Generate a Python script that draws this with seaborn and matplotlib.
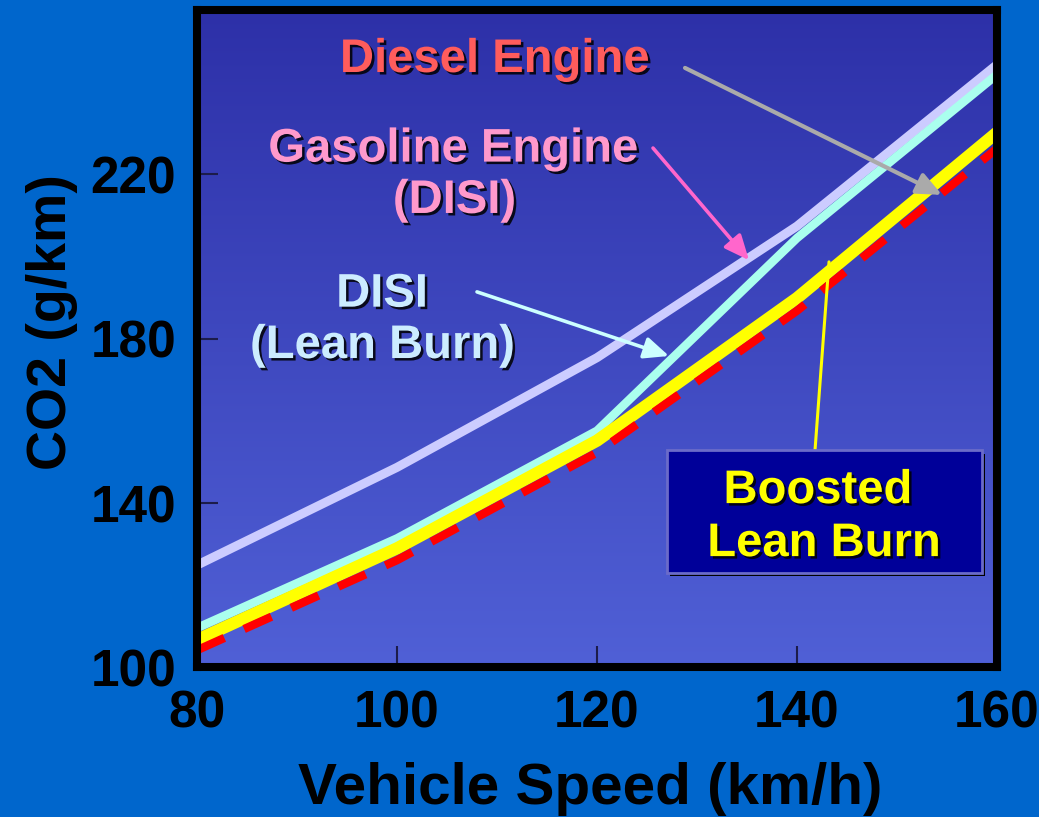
import numpy as np
import matplotlib
matplotlib.use("Agg")
import matplotlib.pyplot as plt
import matplotlib.patheffects as pe
from matplotlib.colors import LinearSegmentedColormap
from matplotlib.patches import Rectangle
import seaborn as sns

# CO2 emissions (g/km) against vehicle speed (km/h)
speed_kmh = [80, 100, 120, 140, 160]
co2_gasoline_disi = [124.9, 148.7, 175.4, 207.4, 246.7]
co2_disi_lean = [109.6, 131.4, 157.6, 204.5, 244.3]
co2_boosted_lean = [106.7, 129.0, 155.2, 189.9, 230.2]
co2_diesel = [104.2, 126.1, 152.3, 186.8, 226.3]

x_ticks = [80, 100, 120, 140, 160]
y_ticks = [100, 140, 180, 220]
x_limits = (80, 160)
y_limits = (100, 260)

sns.set_theme(style="white")
plt.rcParams["font.family"] = ["Liberation Sans", "DejaVu Sans"]
plt.rcParams["font.weight"] = "bold"

fig = plt.figure(figsize=(10.39, 8.17), dpi=100, facecolor="#0066CC")
ax = fig.add_axes([0.1896, 0.1830, 0.7700, 0.8048])
ax.set_facecolor("#3A45BE")

# vertical blue gradient behind the curves
grad = np.linspace(0, 1, 256).reshape(-1, 1)
bg_cmap = LinearSegmentedColormap.from_list("bg", ["#5060D6", "#2D30A8"])
ax.imshow(grad, extent=(*x_limits, *y_limits), origin="lower",
          aspect="auto", cmap=bg_cmap, zorder=0, interpolation="bicubic")

sns.lineplot(x=speed_kmh, y=co2_gasoline_disi, ax=ax, color="#CCCCFF",
             lw=6.5, zorder=3)
sns.lineplot(x=speed_kmh, y=co2_disi_lean, ax=ax, color="#AAFFEE",
             lw=6.2, zorder=4)
sns.lineplot(x=speed_kmh, y=co2_boosted_lean, ax=ax, color="#FFFF00",
             lw=8.8, zorder=4.5)
sns.lineplot(x=speed_kmh, y=co2_diesel, ax=ax, color="#FF0000",
             lw=6.0, zorder=4.6, linestyle=(0, (3.6, 2.6)))

ax.set_xlim(*x_limits)
ax.set_ylim(*y_limits)
ax.set_xticks(x_ticks)
ax.set_yticks(y_ticks)
ax.grid(False)

for spine in ax.spines.values():
    spine.set_visible(True)
    spine.set_color("black")
    spine.set_linewidth(5.8)
    spine.set_zorder(10)

ax.tick_params(axis="both", which="major", direction="in", bottom=True,
               left=True, length=15, width=1.5, color="#1C1C4A",
               labelsize=37, labelcolor="black", pad=15)
ax.tick_params(axis="x", pad=16)

ax.set_xlabel("Vehicle Speed (km/h)", fontsize=42, fontweight="bold",
              color="black")
ax.xaxis.set_label_coords(0.491, -0.1437)
ax.set_ylabel("CO2 (g/km)", fontsize=40, fontweight="bold", color="black",
              va="baseline")
ax.yaxis.set_label_coords(-0.1635, 0.526)

shadow = [pe.withSimplePatchShadow(offset=(1.8, -1.8),
                                   shadow_rgbFace="black", alpha=0.85)]


def label(x, y, text, color):
    ax.text(x, y, text, color=color, fontsize=34, fontweight="bold",
            ha="center", va="baseline", zorder=9, path_effects=shadow)


def pointer(tail, head, color, lw, style="-|>,head_length=0.75,head_width=0.33"):
    ax.annotate("", xy=head, xytext=tail, zorder=8,
                arrowprops=dict(arrowstyle=style, color=color, lw=lw,
                                shrinkA=0, shrinkB=0, mutation_scale=20))


label(109.8, 244.9, "Diesel Engine", "#FF5C5C")
label(105.65, 223.1, "Gasoline Engine", "#FF99CC")
label(105.75, 210.6, "(DISI)", "#FF99CC")
label(98.5, 187.8, "DISI", "#CCECFF")
label(98.55, 175.3, "(Lean Burn)", "#CCECFF")

pointer((128.8, 245.9), (154.5, 215.0), "#AAAAAA", 3.0)
pointer((125.6, 226.4), (135.2, 199.1), "#FF66CC", 2.6)
pointer((108.0, 191.4), (127.2, 175.8), "#CCFFFF", 2.6)
pointer((141.8, 152.9), (143.2, 198.7), "#FFFF00", 2.2, style="-")

box = Rectangle((127.0, 123.0), 31.5, 29.9, facecolor="#000099",
                edgecolor="#6B6BC9", lw=2, zorder=8.5,
                path_effects=[pe.withSimplePatchShadow(
                    offset=(2.5, -2.5), shadow_rgbFace="black", alpha=1.0)])
ax.add_patch(box)
label(142.1, 140.0, "Boosted", "#FFFF00")
label(142.7, 127.1, "Lean Burn", "#FFFF00")

fig.savefig("out.png", dpi=100, facecolor=fig.get_facecolor())
